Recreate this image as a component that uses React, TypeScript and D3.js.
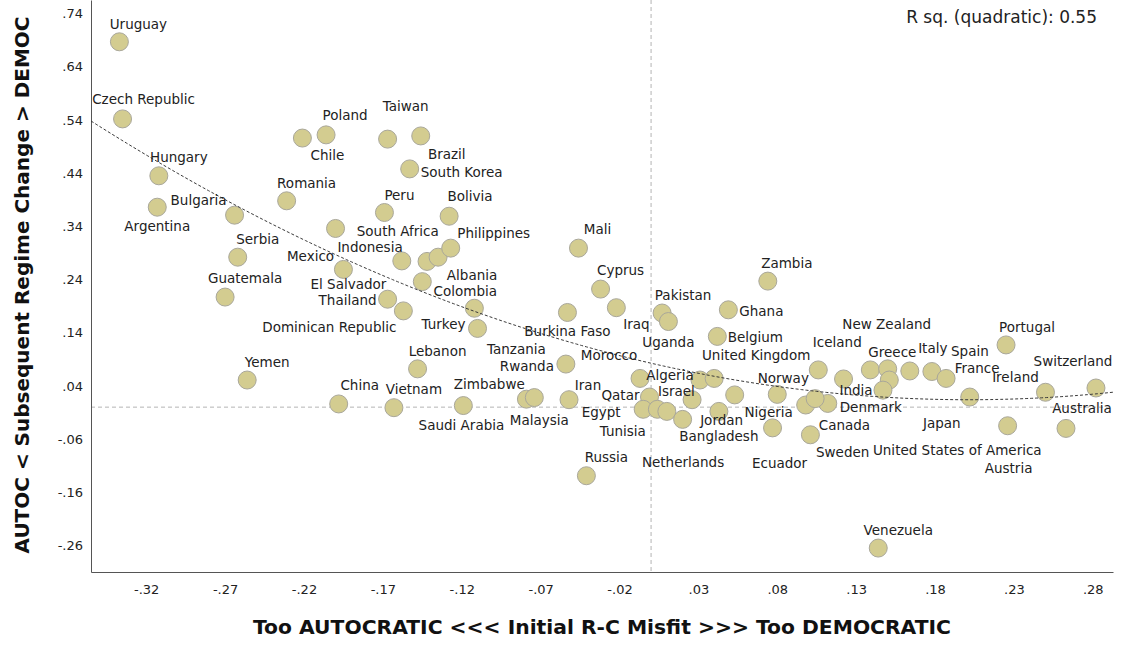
import * as d3 from 'd3'
import * as React from 'react'

//------------------------------data------------------------------
const countries = [
  'Uruguay', 'Czech Republic', 'Hungary', 'Argentina', 'Bulgaria', 'Serbia', 'Guatemala', 'Romania',
  'Chile', 'Poland', 'Taiwan', 'Brazil', 'South Korea', 'Peru', 'Bolivia', 'Mexico', 'El Salvador',
  'South Africa', 'Indonesia', 'Albania', 'Philippines', 'Colombia', 'Thailand', 'Dominican Republic',
  'Tanzania', 'Turkey', 'Yemen', 'Lebanon', 'China', 'Vietnam', 'Zimbabwe', 'Saudi Arabia', 'Malaysia',
  'Mali', 'Cyprus', 'Iraq', 'Burkina Faso', 'Pakistan', 'Uganda', 'Rwanda', 'Iran', 'Russia', 'Morocco',
  'Algeria', 'United Kingdom', 'Qatar', 'Egypt', 'Israel', 'Tunisia', 'Jordan', 'Netherlands', 'Nigeria',
  'Bangladesh', 'Ghana', 'Belgium', 'Zambia', 'Norway', 'Ecuador', 'Iceland', 'Greece', 'New Zealand',
  'Italy', 'United States of America', 'India', 'Sweden', 'Denmark', 'Canada', 'Spain', 'France', 'Japan',
  'Portugal', 'Austria', 'Ireland', 'Switzerland', 'Australia', 'Venezuela'
]
const misfit = [
  -0.337, -0.335, -0.312, -0.313, -0.264, -0.262, -0.27, -0.231,
  -0.221, -0.206, -0.167, -0.146, -0.153, -0.169, -0.128, -0.2, -0.195,
  -0.158, -0.142, -0.135, -0.127, -0.145, -0.167, -0.157,
  -0.112, -0.11, -0.256, -0.148, -0.198, -0.163, -0.119, -0.079, -0.074,
  -0.046, -0.032, -0.022, -0.053, 0.007, 0.011, -0.054, -0.052, -0.041, -0.007,
  0.031, 0.04, -0.001, -0.005, 0.004, 0.01, 0.02, 0.026, 0.053,
  0.043, 0.049, 0.042, 0.074, 0.08, 0.077, 0.106, 0.139, 0.15,
  0.164, 0.151, 0.147, 0.098, 0.112, 0.101, 0.178, 0.187, 0.202,
  0.225, 0.226, 0.25, 0.282, 0.263, 0.144
]
const regimeChange = [
  0.687, 0.542, 0.435, 0.376, 0.361, 0.282, 0.207, 0.388,
  0.506, 0.512, 0.504, 0.51, 0.448, 0.366, 0.359, 0.336, 0.259,
  0.275, 0.274, 0.282, 0.299, 0.236, 0.203, 0.181,
  0.186, 0.148, 0.051, 0.072, 0.006, -0.001, 0.003, 0.015, 0.018,
  0.299, 0.222, 0.187, 0.178, 0.177, 0.161, 0.081, 0.014, -0.129, 0.054,
  0.051, 0.054, 0.019, -0.004, -0.004, -0.008, -0.023, 0.014, 0.023,
  -0.008, 0.183, 0.133, 0.237, 0.024, -0.039, 0.07, 0.07, 0.072,
  0.068, 0.051, 0.032, 0.004, 0.007, -0.052, 0.067, 0.054, 0.019,
  0.117, -0.035, 0.028, 0.036, -0.04, -0.265
]
// two points in the right cluster carry no visible label
const unlabeledMisfit = [0.122, 0.104]
const unlabeledChange = [0.053, 0.016]

const xTicks = [-0.32, -0.27, -0.22, -0.17, -0.12, -0.07, -0.02, 0.03, 0.08, 0.13, 0.18, 0.23, 0.28]
const yTicks = [0.74, 0.64, 0.54, 0.44, 0.34, 0.24, 0.14, 0.04, -0.06, -0.16, -0.26]
const xTitle = 'Too AUTOCRATIC <<< Initial R-C Misfit >>> Too DEMOCRATIC'
const yTitle = 'AUTOC < Subsequent Regime Change > DEMOC'
const rSquareText = 'R sq. (quadratic): 0.55'

//------------------------------label placement (px from point)------------------------------
const labelOffsets: Record<string, [number, number]> = {
  Uruguay: [19, -18], 'Czech Republic': [21, -20], Hungary: [20, -19], Argentina: [0, 19],
  Bulgaria: [-36, -15], Serbia: [20, -18], Guatemala: [20, -19], Romania: [20, -18],
  Chile: [25, 17], Poland: [19, -20], Taiwan: [18, -33], Brazil: [26, 18], 'South Korea': [52, 3],
  Peru: [15, -18], Bolivia: [21, -20], Mexico: [-25, 28], 'El Salvador': [5, 15],
  'South Africa': [-4, -30], Indonesia: [-57, -14], Albania: [34, 18], Philippines: [43, -15],
  Colombia: [43, 9], Thailand: [-40, 1], 'Dominican Republic': [-74, 16], Tanzania: [42, 41],
  Turkey: [-34, -4], Yemen: [20, -18], Lebanon: [20, -18], China: [21, -19], Vietnam: [20, -19],
  Zimbabwe: [26, -22], 'Saudi Arabia': [-65, 26], Malaysia: [5, 22], Mali: [19, -19],
  Cyprus: [20, -19], Iraq: [20, 16], 'Burkina Faso': [0, 19], Pakistan: [21, -18], Uganda: [0, 20],
  Rwanda: [-39, 2], Iran: [19, -15], Russia: [20, -19], Morocco: [-31, -23], Algeria: [-30, -5],
  'United Kingdom': [42, -23], Qatar: [-29, -2], Egypt: [-42, 3], Israel: [19, -18],
  Tunisia: [-44, 20], Jordan: [39, 1], Netherlands: [-9, 62], Nigeria: [34, 17], Bangladesh: [0, 25],
  Ghana: [33, 1], Belgium: [38, 1], Zambia: [19, -18], Norway: [6, -16], Ecuador: [7, 35],
  Iceland: [19, -28], Greece: [22, -18], 'New Zealand': [-1, -45], Italy: [23, -23],
  'United States of America': [68, 70], India: [-27, 0], Sweden: [37, 47], Denmark: [43, 4],
  Canada: [34, -10], Spain: [38, -21], France: [31, -10], Japan: [-28, 26], Portugal: [21, -18],
  Austria: [1, 42], Ireland: [-30, -15], Switzerland: [-23, -27], Australia: [16, -20],
  Venezuela: [20, -18]
}

const WIDTH = 1124
const HEIGHT = 649
const PLOT = { left: 91, right: 1113, top: 0, bottom: 572 }
const FONT = '"DejaVu Sans", Verdana, sans-serif'

//------------------------------quadratic fit------------------------------
const fitQuadratic = (xs: number[], ys: number[]) => {
  const s = [0, 0, 0, 0, 0]
  const t = [0, 0, 0]
  xs.forEach((x, i) => {
    for (let k = 0; k < 5; k++) s[k] += x ** k
    for (let k = 0; k < 3; k++) t[k] += ys[i] * x ** k
  })
  const det3 = (m: number[][]) =>
    m[0][0] * (m[1][1] * m[2][2] - m[1][2] * m[2][1]) -
    m[0][1] * (m[1][0] * m[2][2] - m[1][2] * m[2][0]) +
    m[0][2] * (m[1][0] * m[2][1] - m[1][1] * m[2][0])
  const M = [
    [s[0], s[1], s[2]],
    [s[1], s[2], s[3]],
    [s[2], s[3], s[4]]
  ]
  const D = det3(M)
  const coef = [0, 1, 2].map(c => det3(M.map((row, r) => row.map((v, j) => (j === c ? t[r] : v)))) / D)
  return (x: number) => coef[0] + coef[1] * x + coef[2] * x * x
}

const fmt = (v: number) => v.toFixed(2).replace('0.', '.')

//------------------------------Component------------------------------
export default function App() {
  const xAxisRef = React.useRef<SVGGElement>(null)
  const yAxisRef = React.useRef<SVGGElement>(null)

  const x = d3.scaleLinear().domain([-0.355, 0.2928]).range([PLOT.left, PLOT.right])
  const y = d3.scaleLinear().domain([-0.31, 0.7656]).range([PLOT.bottom, PLOT.top])

  const allX = [...misfit, ...unlabeledMisfit]
  const allY = [...regimeChange, ...unlabeledChange]
  const fit = fitQuadratic(allX, allY)
  const [x0, x1] = x.domain()
  const fitXs = d3.range(0, 201).map(i => x0 + ((x1 - x0) * i) / 200)
  const fitPath = d3
    .line<number>()
    .x(d => x(d))
    .y(d => y(fit(d)))(fitXs)

  React.useEffect(() => {
    const gx = d3.select(xAxisRef.current)
    gx.call(
      d3.axisBottom(x).tickValues(xTicks).tickFormat(d => fmt(+d)).tickSizeInner(0).tickSizeOuter(0).tickPadding(13)
    )
    gx.select('.domain').attr('stroke', '#555')
    gx.selectAll('text').attr('font-family', FONT).attr('font-size', 13).attr('fill', '#222')

    const gy = d3.select(yAxisRef.current)
    gy.call(
      d3.axisLeft(y).tickValues(yTicks).tickFormat(d => fmt(+d)).tickSizeInner(0).tickSizeOuter(0).tickPadding(8)
    )
    gy.select('.domain').attr('stroke', '#555')
    gy.selectAll('text').attr('font-family', FONT).attr('font-size', 13).attr('fill', '#222')
  }, [])

  const points = misfit.map((m, i) => ({ name: countries[i], mx: m, my: regimeChange[i] }))
  const extra = unlabeledMisfit.map((m, i) => ({ mx: m, my: unlabeledChange[i] }))

  return (
    <svg
      width={WIDTH}
      height={HEIGHT}
      style={{ position: 'absolute', left: 0, top: 0, background: '#fff' }}
    >
      {/* reference lines at zero */}
      <line x1={x(0)} x2={x(0)} y1={PLOT.top} y2={PLOT.bottom} stroke="#b4b4b4" strokeDasharray="4,3" />
      <line x1={PLOT.left} x2={PLOT.right} y1={y(0)} y2={y(0)} stroke="#b4b4b4" strokeDasharray="4,3" />

      <g ref={xAxisRef} transform={`translate(0,${PLOT.bottom})`} />
      <g ref={yAxisRef} transform={`translate(${PLOT.left},0)`} />

      {/* points */}
      <g>
        {[...points, ...extra].map((p, i) => (
          <circle key={i} cx={x(p.mx)} cy={y(p.my)} r={9} fill="#d3cc90" stroke="#a9a79a" strokeWidth={1} />
        ))}
      </g>

      {/* fit line */}
      <path d={fitPath || ''} fill="none" stroke="#3a3a3a" strokeWidth={1} strokeDasharray="3,2" />

      {/* labels */}
      <g fontFamily={FONT} fontSize={13.5} fill="#222" textAnchor="middle">
        {points.map(p => {
          const off = labelOffsets[p.name] || [20, -18]
          return (
            <text key={p.name} x={x(p.mx) + off[0]} y={y(p.my) + off[1]} dominantBaseline="central">
              {p.name}
            </text>
          )
        })}
      </g>

      <text x={1097} y={17} textAnchor="end" dominantBaseline="central" fontFamily={FONT} fontSize={17} fill="#222">
        {rSquareText}
      </text>

      <text
        x={602}
        y={627}
        textAnchor="middle"
        dominantBaseline="central"
        fontFamily={FONT}
        fontSize={20.3}
        fontWeight="bold"
        fill="#111"
      >
        {xTitle}
      </text>
      <text
        transform={`translate(22,285) rotate(-90)`}
        textAnchor="middle"
        dominantBaseline="central"
        fontFamily={FONT}
        fontSize={20}
        fontWeight="bold"
        fill="#111"
      >
        {yTitle}
      </text>
    </svg>
  )
}
